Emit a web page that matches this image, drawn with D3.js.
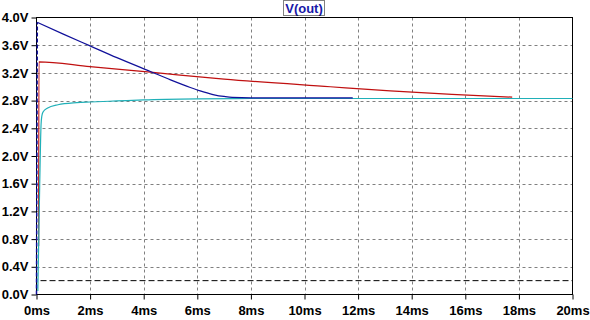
<!DOCTYPE html>
<html>
<head>
<meta charset="utf-8">
<script src="https://cdn.jsdelivr.net/npm/d3@7"></script>
<style>
  body { margin: 0; background: #fff; }
  svg { display: block; }
  text { font-family: "Liberation Sans", Arial, sans-serif; font-weight: bold; font-size: 13px; }
</style>
</head>
<body>
<script>
// traces (time in ms, volts)
var blueT = [0.03, 1, 2, 3, 4.25, 5, 5.74, 6.2, 6.67, 7.0, 7.3, 8, 11.8];
var blueV = [3.93, 3.76, 3.59, 3.42, 3.22, 3.10, 2.99, 2.93, 2.88, 2.86, 2.847, 2.84, 2.84];
var redT = [0.08, 0.09, 2, 4.25, 7, 10.96, 13.2, 15.5, 17.75];
var redV = [0.7, 3.36, 3.29, 3.21, 3.11, 3.0, 2.94, 2.89, 2.85];
var cyanT = [0.05, 0.12, 0.17, 0.2, 0.25, 0.4, 0.8, 1.5, 2, 3, 4, 6, 8, 20];
var cyanV = [0.05, 1.6, 2.45, 2.58, 2.64, 2.69, 2.74, 2.77, 2.78, 2.795, 2.81, 2.825, 2.83, 2.83];
var refT = [0.15, 20];
var refV = [0.2, 0.2];
var yTicks = [0, 0.4, 0.8, 1.2, 1.6, 2.0, 2.4, 2.8, 3.2, 3.6, 4.0];
var xTicks = [0, 2, 4, 6, 8, 10, 12, 14, 16, 18, 20];
var title = "V(out)";

var W = 590, H = 320;
var plotL = 36.5, plotR = 572.5, plotT = 17.5, plotB = 294.5;

var x = d3.scaleLinear().domain([0, 20]).range([plotL, plotR]);
var y = d3.scaleLinear().domain([0, 4]).range([plotB, plotT]);

var svg = d3.select("body").append("svg").attr("width", W).attr("height", H);

// grid
svg.append("g").selectAll("line").data(xTicks.slice(1, -1)).enter().append("line")
  .attr("x1", function(d) { return Math.round(x(d)) + 0.5; })
  .attr("x2", function(d) { return Math.round(x(d)) + 0.5; })
  .attr("y1", plotT).attr("y2", plotB)
  .attr("stroke", "#808080").attr("stroke-dasharray", "3,3");
svg.append("g").selectAll("line").data(yTicks.slice(1, -1)).enter().append("line")
  .attr("y1", function(d) { return Math.round(y(d)) + 0.5; })
  .attr("y2", function(d) { return Math.round(y(d)) + 0.5; })
  .attr("x1", plotL).attr("x2", plotR)
  .attr("stroke", "#808080").attr("stroke-dasharray", "3,3");

// axes
var yAxis = d3.axisLeft(y).tickValues(yTicks).tickSize(5).tickPadding(3)
  .tickFormat(function(d) { return d.toFixed(1) + "V"; });
var xAxis = d3.axisBottom(x).tickValues(xTicks).tickSize(5).tickPadding(6)
  .tickFormat(function(d) { return d + "ms"; });

var gy = svg.append("g").attr("transform", "translate(" + plotL + ",0)").call(yAxis);
var gx = svg.append("g").attr("transform", "translate(0," + plotB + ")").call(xAxis);
[gy, gx].forEach(function(g) {
  g.select(".domain").remove();
  g.selectAll("line").attr("stroke", "#000");
  g.selectAll("text").attr("fill", "#000").style("font-size", "13px")
    .style("font-family", "'Liberation Sans', Arial, sans-serif").style("font-weight", "bold");
});

// frame
svg.append("rect").attr("x", plotL).attr("y", plotT)
  .attr("width", plotR - plotL).attr("height", plotB - plotT)
  .attr("fill", "none").attr("stroke", "#000");

function pts(ts, vs) { return ts.map(function(t, i) { return [t, vs[i]]; }); }
var line = d3.line().x(function(d) { return x(d[0]); }).y(function(d) { return y(d[1]); })
  .curve(d3.curveMonotoneX);

// reference level
svg.append("path").attr("d", line(pts(refT, refV)))
  .attr("fill", "none").attr("stroke", "#000").attr("stroke-dasharray", "6,3");

// traces
svg.append("path").attr("d", line(pts(redT, redV)))
  .attr("fill", "none").attr("stroke", "#c01010").attr("stroke-width", 1.2);
svg.append("path").attr("d", line(pts(cyanT, cyanV)))
  .attr("fill", "none").attr("stroke", "#20b0b8").attr("stroke-width", 1.2);
svg.append("path").attr("d", line(pts(blueT, blueV)))
  .attr("fill", "none").attr("stroke", "#10109a").attr("stroke-width", 1.2);
// rising edge of the blue trace at t = 0
svg.append("path").attr("d", line([[0, 0], [blueT[0], blueV[0]]]))
  .attr("fill", "none").attr("stroke", "#10109a").attr("stroke-width", 1.5)
  .attr("stroke-dasharray", "4,2");

// title with dotted box
var tt = svg.append("text").attr("x", 304).attr("y", 13).attr("text-anchor", "middle")
  .attr("fill", "#1818a8").text(title);
var bb = tt.node().getBBox();
svg.append("rect").attr("x", Math.round(bb.x) - 1.5).attr("y", 0.5)
  .attr("width", Math.round(bb.width) + 3).attr("height", 15)
  .attr("fill", "none").attr("stroke", "#000").attr("stroke-dasharray", "1,1");
</script>
</body>
</html>
